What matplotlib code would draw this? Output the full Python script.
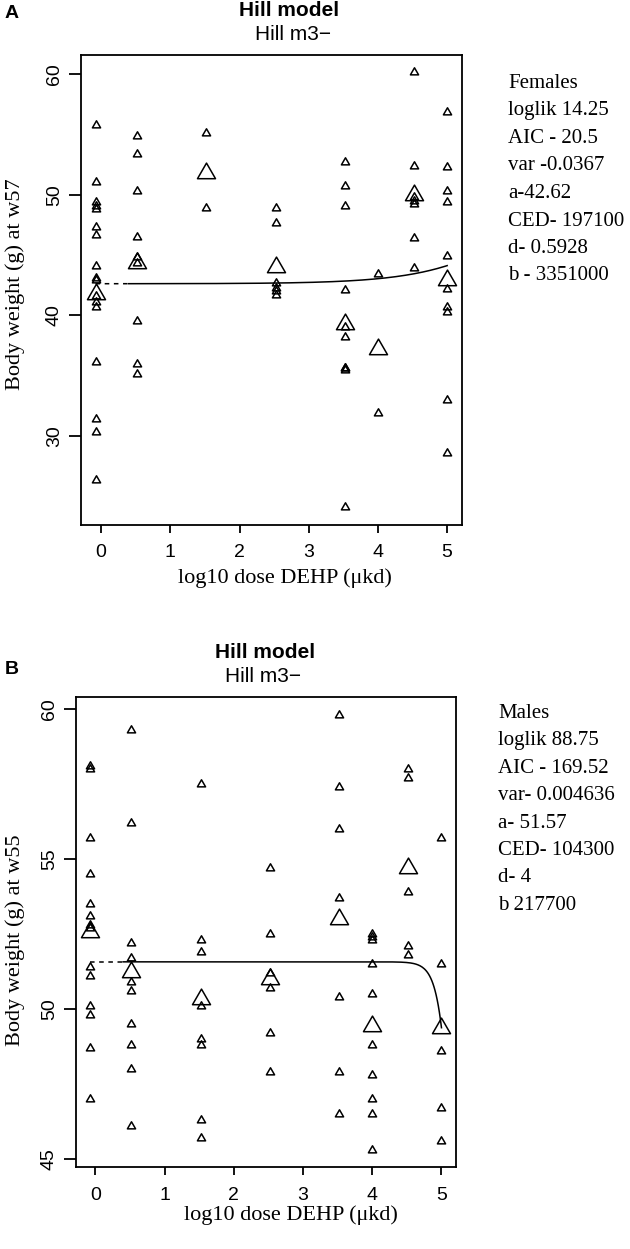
import numpy as np
import matplotlib.pyplot as plt
from matplotlib.path import Path

W, H = 630, 1249

# log10 dose positions of the dose groups (controls drawn at -0.08)
log_dose = [-0.08, 0.52, 1.52, 2.52, 3.52, 4.0, 4.52, 5.0]

# Females, body weight at week 57
fem_groups = [
    [55.8, 51.1, 49.4, 49.1, 48.8, 47.3, 46.7, 44.1, 43.1, 42.9, 41.6, 41.1, 40.7, 36.1, 31.4, 30.3, 26.3],
    [54.9, 53.4, 50.3, 46.5, 44.8, 44.3, 39.5, 36.0, 35.1],
    [55.1, 48.9],
    [48.9, 47.7, 42.7, 42.3, 42.0, 41.7],
    [52.7, 50.7, 49.1, 42.1, 39.0, 38.2, 35.6, 35.5, 35.6, 24.1],
    [43.4, 31.9],
    [60.2, 52.4, 49.8, 49.5, 49.2, 46.4, 43.9],
    [56.9, 52.3, 50.3, 49.4, 44.9, 42.2, 40.7, 40.3, 33.0, 28.6],
]
fem_means = [41.8, 44.3, 51.8, 44.0, 39.3, 37.2, 50.0, 42.9]

# Males, body weight at week 55
mal_groups = [
    [58.1, 58.0, 55.7, 54.5, 53.5, 53.1, 52.8, 52.7, 51.4, 51.1, 50.1, 49.8, 48.7, 47.0],
    [59.3, 56.2, 52.2, 51.7, 50.9, 50.6, 49.5, 48.8, 48.0, 46.1],
    [57.5, 52.3, 51.9, 50.1, 49.0, 48.8, 46.3, 45.7],
    [54.7, 52.5, 51.2, 50.7, 49.2, 47.9],
    [59.8, 57.4, 56.0, 53.7, 50.4, 47.9, 46.5],
    [52.5, 52.4, 52.3, 51.5, 50.5, 48.8, 47.8, 47.0, 46.5, 45.3],
    [58.0, 57.7, 53.9, 52.1, 51.8],
    [55.7, 51.5, 48.6, 46.7, 45.6],
]
mal_means = [52.55, 51.24, 50.32, 51.0, 53.0, 49.43, 54.69, 49.38]

# fitted Hill m3- parameters (a, b, d, CED, direction)
fem_fit = (42.62, 3351000.0, 0.5928, 197100.0, +1)
mal_fit = (51.57, 217700.0, 4.0, 104300.0, -1)
CES = 0.05

fem_text = ["Females", "loglik 14.25", "AIC - 20.5", "var -0.0367", "a-42.62",
            "CED- 197100", "d- 0.5928", "b - 3351000"]
mal_text = ["Males", "loglik 88.75", "AIC - 169.52", "var- 0.004636", "a- 51.57",
            "CED- 104300", "d- 4", "b 217700"]

SANS = "Liberation Sans"
SERIF = "Liberation Serif"

tri = Path([(-1, -0.577), (1, -0.577), (0, 1.155), (-1, -0.577)],
           [Path.MOVETO, Path.LINETO, Path.LINETO, Path.CLOSEPOLY])


def hill(logx, a, b, d, ced, sign):
    x = 10.0 ** np.asarray(logx)
    frac = lambda z: z ** d / (b ** d + z ** d)
    c = sign * CES / frac(ced)
    return a * (1 + c * frac(x))


def box(l, t, r, b):
    return [l / W, 1 - b / H, (r - l) / W, (b - t) / H]


def panel(ax, groups, means, fit, xlim, ylim, yticks):
    for xd, vals in zip(log_dose, groups):
        ax.plot([xd] * len(vals), vals, linestyle="none", marker=tri, ms=6.8,
                mfc="none", mec="black", mew=1.1, zorder=3)
    ax.plot(log_dose, means, linestyle="none", marker=tri, ms=15,
            mfc="none", mec="black", mew=1.1, zorder=3)
    xs = np.linspace(0.4, 5.0, 300)
    ax.plot(xs, hill(xs, *fit), color="black", lw=1.1)
    xd = np.array([-0.08, 0.4])
    ax.plot(xd, hill(xd, *fit), color="black", lw=1.1, ls=(0, (3, 3)))
    ax.set_xlim(*xlim)
    ax.set_ylim(*ylim)
    ax.set_xticks(range(6))
    ax.set_yticks(yticks)
    for s in ax.spines.values():
        s.set_linewidth(1.3)
    ax.tick_params(axis="x", length=6, width=1.3, pad=8, labelsize=14)
    ax.tick_params(axis="y", length=9, width=1.3, pad=4, labelsize=14,
                   labelrotation=90)
    for lab in ax.get_xticklabels() + ax.get_yticklabels():
        lab.set_fontfamily(SANS)
    for lab in ax.get_yticklabels():
        lab.set_verticalalignment("center")


fig = plt.figure(figsize=(W / 100, H / 100), dpi=100)

axA = fig.add_axes(box(81, 55, 461.7, 525))
panel(axA, fem_groups, fem_means, fem_fit, (-0.29, 5.21), (22.6, 61.6), [30, 40, 50, 60])
axB = fig.add_axes(box(76, 697.3, 456, 1167.3))
panel(axB, mal_groups, mal_means, mal_fit, (-0.28, 5.21), (44.72, 60.39), [45, 50, 55, 60])


def ftext(x, y, s, **kw):
    fig.text(x / W, 1 - y / H, s, **kw)


# panel letters and titles
ftext(12, 14, "A", family=SANS, weight="bold", fontsize=14, ha="center", va="center")
ftext(12, 670, "B", family=SANS, weight="bold", fontsize=14, ha="center", va="center")
ftext(289, 11, "Hill model", family=SANS, weight="bold", fontsize=15, ha="center", va="center")
ftext(293, 35, "Hill m3\u2212", family=SANS, fontsize=15, ha="center", va="center")
ftext(265, 653, "Hill model", family=SANS, weight="bold", fontsize=15, ha="center", va="center")
ftext(263, 677, "Hill m3\u2212", family=SANS, fontsize=15, ha="center", va="center")

# axis labels
ftext(15, 284, "Body weight (g) at w57", family=SERIF, fontsize=16, rotation=90,
      ha="center", va="center")
ftext(15, 940, "Body weight (g) at w55", family=SERIF, fontsize=16, rotation=90,
      ha="center", va="center")
ftext(285, 578, "log10 dose DEHP (\u03bckd)", family=SERIF, fontsize=16, ha="center", va="center")
ftext(291, 1215, "log10 dose DEHP (\u03bckd)", family=SERIF, fontsize=16, ha="center", va="center")

# fit summaries
for i, s in enumerate(fem_text):
    ftext(508, 83.5 + i * 27.5, s, family=SERIF, fontsize=15, ha="left", va="center")
for i, s in enumerate(mal_text):
    ftext(498, 713.5 + i * 27.4, s, family=SERIF, fontsize=15, ha="left", va="center")

fig.savefig("out.png", dpi=100)
